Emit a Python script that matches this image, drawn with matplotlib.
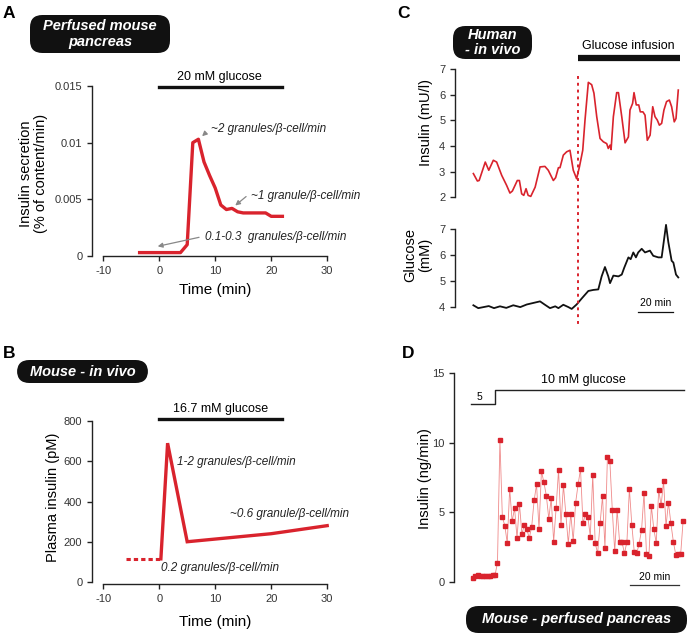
import matplotlib
matplotlib.use('Agg')
import matplotlib.pyplot as plt
from matplotlib.patches import FancyBboxPatch
from matplotlib import transforms

plt.rcParams['font.family'] = ['Liberation Sans', 'DejaVu Sans']
plt.rcParams['axes.unicode_minus'] = False

RED = '#d9232d'

# ---- panel A: perfused mouse pancreas ----
a_time = [-3.5, 3.8, 5, 6, 7, 8, 9, 10, 11, 12, 13, 14, 15, 19, 20, 22]
a_secr = [0.0003, 0.0003, 0.001, 0.0100, 0.0103, 0.0083, 0.0071, 0.0060,
          0.0045, 0.0041, 0.0042, 0.0039, 0.0038, 0.0038, 0.0035, 0.0035]

# ---- panel B: mouse in vivo ----
b_basal_t = [-6, 0.3]
b_basal_v = [115, 115]
b_time = [0.3, 1.5, 5, 20, 30]
b_ins = [115, 690, 200, 240, 280]

# ---- panel C: human in vivo (min relative to infusion start) ----
c_ins_t = [-59.8, -57.5, -56.5, -53, -51, -48.4, -46.5, -43.6, -40.8, -38.9,
           -37.5, -34.7, -33.5, -32.2, -31, -29.7, -28.5, -27, -24.5, -21.7,
           -18.9, -17, -14.1, -12.8, -11.2, -10.3, -8.4, -6.5, -4.6, -2.7,
           -0.8, 0.8, 2.7, 4, 5.9, 7.8, 9.1, 10.7, 12.6, 14.5, 16.4, 17.3,
           18.3, 18.9, 20.2, 22.1, 23.1, 25, 26.9, 28.8, 29.7, 31.2, 32,
           33.3, 34.7, 35.6, 37.1, 38.3, 39.6, 41.2, 42.7, 44, 45.3, 46.5,
           47.8, 49.1, 50.6, 52.2, 53.5, 55, 56, 57.3]
c_ins_v = [2.92, 2.63, 2.65, 3.37, 3.05, 3.44, 3.37, 2.85, 2.46, 2.16,
           2.24, 2.65, 2.65, 2.13, 2.07, 2.33, 2.07, 2.03, 2.39, 3.18,
           3.20, 3.05, 2.65, 2.76, 3.15, 3.15, 3.64, 3.77, 3.83, 3.05,
           2.72, 3.18, 3.83, 5.01, 6.48, 6.39, 6.06, 5.14, 4.29, 4.16, 4.09, 3.90,
           4.03, 3.86, 5.14, 6.08, 6.08, 5.14, 4.12, 4.35, 5.40, 5.66, 6.08,
           5.60, 5.60, 5.33, 5.33, 5.20, 4.22, 4.42, 5.53, 5.14, 5.01, 4.81,
           4.88, 5.40, 5.73, 5.79, 5.53, 4.94, 5.07, 6.18]
c_glu_t = [-59.8, -57, -54, -51, -48, -44.6, -41, -37, -33, -29.3, -25.5,
           -21.7, -18.9, -16, -13, -11.2, -8.4, -5.5, -3.6, -0.8, 2.1, 5.9,
           8.8, 11.6, 13.5, 15.4, 17.3, 18.3, 20.2, 23.1, 25, 26.4, 28.8,
           30.1, 31.6, 33.1, 34.4, 36.4, 38.3, 41.1, 43, 45.9, 47.8, 50.3,
           51.6, 53.5, 54.5, 56, 57.3]
c_glu_v = [4.07, 3.96, 4.00, 4.04, 3.96, 4.03, 3.97, 4.07, 4.00, 4.10, 4.16,
           4.22, 4.09, 3.96, 4.03, 3.96, 4.09, 4.00, 3.93, 4.10, 4.33, 4.62,
           4.66, 4.68, 5.18, 5.54, 5.18, 4.92, 5.21, 5.18, 5.25, 5.51, 5.91,
           5.84, 6.10, 5.91, 6.10, 6.24, 6.10, 6.17, 5.97, 5.91, 5.91, 7.16,
           6.50, 5.78, 5.71, 5.25, 5.14]

# ---- panel D: mouse perfused pancreas, 1-min samples ----
d_ins = [0.3, 0.45, 0.5, 0.4, 0.45, 0.4, 0.4, 0.42, 0.52, 0.48, 1.4,
         10.2, 4.65, 4.05, 2.8, 6.7, 4.35, 5.3, 3.15, 5.6, 3.45, 4.1, 3.8,
         3.15, 3.95, 5.85, 7.0, 3.8, 7.95, 7.15, 6.2, 4.55, 6.0, 2.9, 5.3,
         8.05, 4.1, 6.95, 4.85, 2.75, 4.9, 2.95, 5.7, 7.0, 8.1, 4.2, 4.85,
         4.7, 3.25, 7.7, 2.8, 2.05, 4.2, 6.15, 2.45, 8.95, 8.7, 5.2, 2.2,
         5.15, 2.85, 2.85, 2.05, 2.9, 6.7, 4.1, 2.15, 2.05, 2.75, 3.75, 6.4,
         2.0, 1.9, 5.45, 3.8, 2.8, 6.6, 5.5, 7.25, 4.0, 5.7, 4.2, 2.9, 1.95,
         2.0, 2.0, 4.4]
d_time = list(range(len(d_ins)))
d_step_t = [-0.8, 9, 9, 86.5]
d_step_v = [12.8, 12.8, 13.8, 13.8]

W, H = 689, 634


def box(l, t, r, b):
    return [l / W, 1 - b / H, (r - l) / W, (b - t) / H]


def style(ax, xb=None, yb=None):
    for s in ['top', 'right']:
        ax.spines[s].set_visible(False)
    if xb is None:
        ax.spines['bottom'].set_visible(False)
        ax.set_xticks([])
    else:
        ax.spines['bottom'].set_bounds(*xb)
    ax.spines['left'].set_bounds(*yb)
    for s in ['left', 'bottom']:
        ax.spines[s].set_linewidth(1.0)
        ax.spines[s].set_color('#222222')
    ax.tick_params(direction='out', length=3.5, width=1.0, labelsize=8,
                   colors='#222222', labelcolor='#333333')
    ax.patch.set_alpha(0)


def title_box(l, t, r, b, text):
    p = FancyBboxPatch((l / W, 1 - b / H), (r - l) / W, (b - t) / H,
                       boxstyle='round,pad=0,rounding_size=0.018',
                       mutation_aspect=W / H, transform=fig.transFigure,
                       facecolor='#111111', edgecolor='none')
    fig.add_artist(p)
    fig.text((l + r) / 2 / W, 1 - (t + b) / 2 / H, text, color='white',
             ha='center', va='center', fontsize=10.5, fontweight='bold',
             style='italic', linespacing=1.15)


fig = plt.figure(figsize=(6.89, 6.34), dpi=100)

# panel A
axA = fig.add_axes(box(92, 80.3, 330, 256))
axA.plot(a_time, a_secr, color=RED, lw=2.4, solid_joinstyle='round', clip_on=False)
axA.set_xlim(-12, 30.5)
axA.set_ylim(0, 0.0155)
axA.set_xticks([-10, 0, 10, 20, 30])
axA.set_yticks([0, 0.005, 0.01, 0.015])
axA.set_yticklabels(['0', '0.005', '0.01', '0.015'])
style(axA, (-10, 30), (0, 0.015))
axA.set_xlabel('Time (min)', fontsize=11)
axA.xaxis.set_label_coords(0.517, -0.153)
axA.set_ylabel('Insulin secretion\n(% of content/min)', fontsize=10.5, linespacing=1.1)
axA.yaxis.set_label_coords(-0.185, 0.47)
axA.plot([0, 22], [0.0149, 0.0149], color='#111111', lw=2.4, clip_on=False)
axA.text(10.7, 0.0158, '20 mM glucose', ha='center', va='center', fontsize=9)
arrow = dict(arrowstyle='-|>', color='#888888', lw=0.9, mutation_scale=7)
axA.annotate('', xy=(7.3, 0.0104), xytext=(8.6, 0.0110), arrowprops=arrow)
axA.text(9.2, 0.0112, '~2 granules/β-cell/min', fontsize=8.5, style='italic',
         va='center', color='#222222')
axA.annotate('', xy=(13.2, 0.0043), xytext=(15.9, 0.0054), arrowprops=arrow)
axA.text(16.4, 0.0053, '~1 granule/β-cell/min', fontsize=8.5, style='italic',
         va='center', color='#222222')
axA.annotate('', xy=(-0.75, 0.0008), xytext=(7.6, 0.0017), arrowprops=arrow)
axA.text(8.2, 0.0017, '0.1-0.3  granules/β-cell/min', fontsize=8.5, style='italic',
         va='center', color='#222222', clip_on=False)

# panel B
axB = fig.add_axes(box(92, 417, 330, 584.4))
axB.plot(b_basal_t, b_basal_v, color=RED, lw=2.2, ls=(0, (1.4, 1.0)))
axB.plot(b_time, b_ins, color=RED, lw=2.4, solid_joinstyle='miter')
axB.set_xlim(-12, 30.5)
axB.set_ylim(-12, 820)
axB.set_xticks([-10, 0, 10, 20, 30])
axB.set_yticks([0, 200, 400, 600, 800])
style(axB, (-10, 30), (0, 800))
axB.set_xlabel('Time (min)', fontsize=11)
axB.xaxis.set_label_coords(0.517, -0.183)
axB.set_ylabel('Plasma insulin (pM)', fontsize=10.5)
axB.yaxis.set_label_coords(-0.134, 0.52)
axB.plot([0, 22], [810, 810], color='#111111', lw=2.4, clip_on=False)
axB.text(11, 862, '16.7 mM glucose', ha='center', va='center', fontsize=9,
         clip_on=False)
for x, y, s in [(3.2, 596, '1-2 granules/β-cell/min'),
                (12.6, 338, '~0.6 granule/β-cell/min'),
                (0.3, 70, '0.2 granules/β-cell/min')]:
    axB.text(x, y, s, fontsize=8.5, style='italic', va='center', color='#222222',
             clip_on=False)

# panel C
axC1 = fig.add_axes(box(455, 66.5, 683, 201))
axC1.plot(c_ins_t, c_ins_v, color=RED, lw=1.2, clip_on=False)
axC1.set_xlim(-70.3, 60)
axC1.set_ylim(1.85, 7.1)
axC1.set_yticks([2, 3, 4, 5, 6, 7])
style(axC1, None, (2, 7))
axC1.set_ylabel('Insulin (mU/l)', fontsize=10.5)
axC1.yaxis.set_label_coords(-0.095, 0.587)
axC1.plot([0, 58], [7.43, 7.43], color='#111111', lw=4.5, clip_on=False,
          solid_capstyle='butt')
axC1.text(29, 7.9, 'Glucose infusion', ha='center', va='center', fontsize=9,
          clip_on=False)

axC2 = fig.add_axes(box(455, 222.5, 683, 311))
axC2.plot(c_glu_t, c_glu_v, color='#111111', lw=1.3, clip_on=False)
axC2.set_xlim(-70.3, 60)
axC2.set_ylim(3.85, 7.25)
axC2.set_yticks([4, 5, 6, 7])
style(axC2, None, (4, 7))
axC2.set_ylabel('Glucose\n(mM)', fontsize=10.5, linespacing=1.1)
axC2.yaxis.set_label_coords(-0.1, 0.63)
axC2.plot([34.3, 54.3], [3.81, 3.81], color='#111111', lw=0.9, clip_on=False)
axC2.text(44.3, 4.15, '20 min', ha='center', va='center', fontsize=7.5)

trans = transforms.blended_transform_factory(axC1.transData, fig.transFigure)
fig.add_artist(plt.Line2D([0, 0], [1 - 76 / H, 1 - 327 / H], transform=trans,
                          color=RED, lw=1.4, ls=(0, (1.5, 2))))

# panel D
axD = fig.add_axes(box(454, 370.2, 688, 586.2))
axD.plot(d_time, d_ins, color='#ef8a8a', lw=0.6, marker='s', ms=2.8,
         mfc=RED, mec=RED, clip_on=False)
axD.set_xlim(-7.8, 88)
axD.set_ylim(-0.3, 15.2)
axD.set_yticks([0, 5, 10, 15])
style(axD, None, (0, 15))
axD.set_ylabel('Insulin (ng/min)', fontsize=10.5)
axD.yaxis.set_label_coords(-0.094, 0.5)
axD.plot(d_step_t, d_step_v, color='#222222', lw=1.0, clip_on=False)
axD.text(2.7, 13.3, '5', ha='center', va='center', fontsize=7.5)
axD.text(45, 14.5, '10 mM glucose', ha='center', va='center', fontsize=9)
axD.plot([64.3, 84.4], [-0.2, -0.2], color='#333333', lw=0.9, clip_on=False)
axD.text(74.4, 0.35, '20 min', ha='center', va='center', fontsize=7.5)

# title boxes and panel letters
title_box(30, 15, 170, 53, 'Perfused mouse\npancreas')
title_box(17, 360, 148, 383, 'Mouse - in vivo')
title_box(453, 26, 532, 59, 'Human\n- in vivo')
title_box(466, 606, 687, 633, 'Mouse - perfused pancreas')
for x, y, s in [(9, 13, 'A'), (9, 353, 'B'), (403, 14, 'C'), (408, 353, 'D')]:
    fig.text(x / W, 1 - y / H, s, fontsize=12.5, fontweight='bold',
             ha='center', va='center')

fig.savefig('out.png', dpi=100)
